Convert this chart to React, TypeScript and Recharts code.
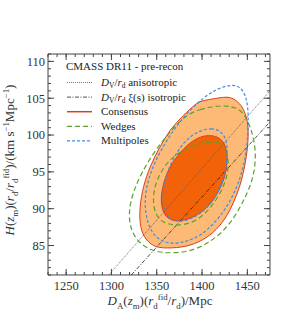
import React from 'react';
import { ComposedChart, Scatter, XAxis, YAxis } from 'recharts';

// ---- data (D_A in Mpc, H in km/s/Mpc) ----
const consensusOuterDA = [1397.6, 1416.0, 1427.1, 1434.5, 1443.7, 1449.2, 1451.0, 1451.0, 1449.2, 1445.5, 1441.8, 1434.5, 1427.1, 1416.0, 1401.3, 1382.8, 1360.7, 1346.0, 1334.9, 1331.2, 1331.2, 1334.9, 1342.3, 1353.3, 1364.4, 1379.1, 1393.9];
const consensusOuterH = [104.6, 105.0, 105.2, 105.0, 104.1, 102.5, 101.1, 99.3, 97.1, 94.8, 93.0, 90.7, 88.9, 87.1, 85.7, 84.8, 84.6, 84.8, 86.2, 88.0, 90.3, 93.0, 95.7, 98.4, 100.7, 102.7, 104.3];

const consensusInnerDA = [1406.8, 1417.9, 1425.2, 1428.2, 1427.1, 1422.7, 1415.3, 1405.0, 1392.1, 1377.3, 1364.4, 1357.0, 1354.4, 1355.9, 1360.7, 1369.9, 1382.8, 1395.7];
const consensusInnerH = [100.0, 99.8, 98.9, 97.3, 95.2, 93.4, 91.6, 90.0, 88.9, 88.3, 88.4, 89.4, 91.0, 92.7, 94.8, 96.8, 98.6, 99.7];

const wedgesOuterDA = [1382.8, 1397.6, 1412.3, 1427.1, 1438.1, 1445.5, 1451.0, 1454.7, 1457.3, 1459.2, 1458.4, 1455.5, 1449.9, 1442.6, 1433.3, 1422.3, 1408.6, 1393.9, 1375.5, 1357.0, 1342.3, 1330.5, 1323.1, 1319.4, 1320.1, 1324.9, 1333.0, 1344.1, 1357.0, 1369.9];
const wedgesOuterH = [102.7, 103.5, 103.9, 104.0, 103.7, 103.0, 101.8, 100.5, 99.3, 97.5, 95.7, 93.9, 92.1, 90.3, 88.4, 86.8, 85.5, 84.5, 84.0, 84.0, 84.4, 85.4, 86.7, 88.4, 90.5, 92.5, 94.8, 97.1, 99.3, 101.2];

const wedgesInnerDA = [1388.4, 1404.9, 1417.9, 1425.2, 1428.9, 1428.9, 1425.2, 1417.9, 1408.6, 1397.6, 1384.7, 1369.9, 1357.0, 1348.9, 1346.0, 1346.7, 1351.5, 1360.7, 1373.6];
const wedgesInnerH = [98.5, 99.1, 99.1, 98.4, 97.1, 95.2, 93.4, 91.6, 90.0, 88.7, 87.9, 87.7, 88.1, 89.1, 90.7, 92.5, 94.3, 96.2, 97.6];

const multipolesOuterDA = [1434.5, 1443.7, 1449.2, 1451.0, 1451.0, 1449.9, 1447.4, 1442.6, 1435.6, 1426.3, 1414.2, 1399.4, 1382.8, 1366.2, 1353.3, 1344.1, 1338.6, 1336.7, 1338.6, 1344.1, 1352.6, 1363.7, 1375.5, 1388.4, 1402.0, 1417.9];
const multipolesOuterH = [106.9, 106.4, 105.0, 103.2, 101.1, 98.9, 96.6, 94.3, 92.1, 90.0, 88.1, 86.4, 85.5, 85.2, 85.7, 86.8, 88.7, 90.7, 93.0, 95.2, 97.5, 99.8, 101.8, 103.6, 105.1, 106.4];

const multipolesInnerDA = [1395.7, 1410.5, 1421.5, 1427.1, 1428.2, 1426.3, 1421.5, 1414.2, 1403.1, 1390.2, 1377.3, 1366.2, 1358.9, 1356.3, 1357.8, 1363.7, 1373.6, 1384.7];
const multipolesInnerH = [100.5, 101.0, 100.5, 99.3, 97.5, 95.2, 93.2, 91.4, 89.8, 88.7, 88.2, 88.4, 89.3, 91.2, 93.4, 95.7, 98.0, 99.6];

const anisoDA = [1297, 1475];
const anisoH = [81, 106.0];
const isoDA = [1322, 1475];
const isoH = [81, 101.8];

const xTicks = [1250, 1300, 1350, 1400, 1450];
const yTicks = [85, 90, 95, 100, 105, 110];
const xMinorTicks = [1230, 1240, 1250, 1260, 1270, 1280, 1290, 1300, 1310, 1320, 1330, 1340, 1350, 1360, 1370, 1380, 1390, 1400, 1410, 1420, 1430, 1440, 1450, 1460, 1470];
const yMinorTicks = [81, 82, 83, 84, 85, 86, 87, 88, 89, 90, 91, 92, 93, 94, 95, 96, 97, 98, 99, 100, 101, 102, 103, 104, 105, 106, 107, 108, 109, 110, 111];

const legendTitle = 'CMASS DR11 - pre-recon';
const legendLabels = ['anisotropic', 'ξ(s) isotropic', 'Consensus', 'Wedges', 'Multipoles'];

// ---- styles ----
const C_LIGHT = '#fdba76';
const C_DARK = '#f26208';
const C_EDGE = '#dc3d1c';
const C_GREEN = '#5ca22a';
const C_BLUE = '#3a8de8';
const AXIS = '#444';
const FONT = '"Liberation Serif", serif';
const THIN = 0.01;

const zip = (xs: number[], ys: number[]) => xs.map((x, i) => ({ x, y: ys[i] }));

const NoShape = () => <g />;

type Seg = { t: string; i?: boolean; sub?: boolean; sup?: boolean };

const Rich = ({ segs, size }: { segs: Seg[]; size: number }) => {
  let cur = 0;
  const out: React.ReactNode[] = [];
  segs.forEach((s, k) => {
    const target = s.sub ? size * 0.3 : s.sup ? -size * 0.36 : 0;
    const dy = target - cur;
    cur = target;
    out.push(
      <tspan key={k} dy={dy} fontStyle={s.i ? 'italic' : 'normal'} fontSize={s.sub || s.sup ? size * 0.68 : size}>
        {s.t}
      </tspan>
    );
  });
  return <>{out}</>;
};

const xTitle: Seg[] = [
  { t: 'D', i: true }, { t: 'A', sub: true }, { t: '(' }, { t: 'z', i: true }, { t: 'm', sub: true }, { t: ')(' },
  { t: 'r', i: true }, { t: 'd', sub: true }, { t: 'fid', sup: true }, { t: '/' }, { t: 'r', i: true }, { t: 'd', sub: true }, { t: ')/Mpc' },
];
const yTitle: Seg[] = [
  { t: 'H', i: true }, { t: '(' }, { t: 'z', i: true }, { t: 'm', sub: true }, { t: ')(' },
  { t: 'r', i: true }, { t: 'd', sub: true }, { t: '/' }, { t: 'r', i: true }, { t: 'd', sub: true }, { t: 'fid', sup: true },
  { t: ')/(km s' }, { t: '−1', sup: true }, { t: 'Mpc' }, { t: '−1', sup: true }, { t: ')' },
];

const legendStyles = [
  { stroke: '#555', dash: '1 1', w: 0.8 },
  { stroke: '#222', dash: '4 1.5 1 1.5', w: 0.8 },
  { stroke: C_EDGE, dash: undefined, w: 1.5 },
  { stroke: C_GREEN, dash: '5 3', w: 1.3 },
  { stroke: C_BLUE, dash: '3 2', w: 1.3 },
];

export default function App() {
  const tickStyle = { fontFamily: FONT, fontSize: 12.5, fill: '#333' };
  const blank = () => '';
  const contour = (xs: number[], ys: number[], line: any) => (
    <Scatter xAxisId="b" yAxisId="l" data={zip(xs, ys)} shape={NoShape} isAnimationActive={false}
      line={line} lineJointType="basisClosed" />
  );
  return (
    <div style={{ position: 'absolute', left: 0, top: 0, width: 299, height: 324, background: '#fff' }}>
      <ComposedChart width={299} height={324} margin={{ top: 54, right: 29, bottom: 49, left: 48 }}>
        <XAxis xAxisId="b" type="number" dataKey="x" domain={[1230, 1475]} allowDataOverflow ticks={xTicks} interval={0}
          height={THIN} tickSize={-6} tickMargin={12} stroke={AXIS} tick={tickStyle} />
        <XAxis xAxisId="bm" type="number" dataKey="x" domain={[1230, 1475]} allowDataOverflow ticks={xMinorTicks} interval={0}
          height={THIN} tickSize={-3} axisLine={false} stroke={AXIS} tickFormatter={blank} />
        <XAxis xAxisId="t" orientation="top" type="number" dataKey="x" domain={[1230, 1475]} allowDataOverflow ticks={xTicks} interval={0}
          height={THIN} tickSize={-6} stroke={AXIS} tickFormatter={blank} />
        <XAxis xAxisId="tm" orientation="top" type="number" dataKey="x" domain={[1230, 1475]} allowDataOverflow ticks={xMinorTicks} interval={0}
          height={THIN} tickSize={-3} axisLine={false} stroke={AXIS} tickFormatter={blank} />
        <YAxis yAxisId="l" type="number" dataKey="y" domain={[81, 111]} allowDataOverflow ticks={yTicks} interval={0}
          width={THIN} tickSize={-6} tickMargin={9} stroke={AXIS} tick={tickStyle} />
        <YAxis yAxisId="lm" type="number" dataKey="y" domain={[81, 111]} allowDataOverflow ticks={yMinorTicks} interval={0}
          width={THIN} tickSize={-3} axisLine={false} stroke={AXIS} tickFormatter={blank} />
        <YAxis yAxisId="r" orientation="right" type="number" dataKey="y" domain={[81, 111]} allowDataOverflow ticks={yTicks} interval={0}
          width={THIN} tickSize={-6} stroke={AXIS} tickFormatter={blank} />
        <YAxis yAxisId="rm" orientation="right" type="number" dataKey="y" domain={[81, 111]} allowDataOverflow ticks={yMinorTicks} interval={0}
          width={THIN} tickSize={-3} axisLine={false} stroke={AXIS} tickFormatter={blank} />

        {contour(consensusOuterDA, consensusOuterH, { fill: C_LIGHT, stroke: C_EDGE, strokeWidth: 1 })}
        {contour(consensusInnerDA, consensusInnerH, { fill: C_DARK, stroke: C_EDGE, strokeWidth: 1 })}
        <Scatter xAxisId="b" yAxisId="l" data={zip(anisoDA, anisoH)} shape={NoShape} isAnimationActive={false}
          line={{ fill: 'none', stroke: '#555', strokeWidth: 0.8, strokeDasharray: '1 1' }} />
        <Scatter xAxisId="b" yAxisId="l" data={zip(isoDA, isoH)} shape={NoShape} isAnimationActive={false}
          line={{ fill: 'none', stroke: '#222', strokeWidth: 0.8, strokeDasharray: '4 1.5 1 1.5' }} />
        {contour(wedgesOuterDA, wedgesOuterH, { fill: 'none', stroke: C_GREEN, strokeWidth: 1.2, strokeDasharray: '5 3' })}
        {contour(wedgesInnerDA, wedgesInnerH, { fill: 'none', stroke: C_GREEN, strokeWidth: 1.2, strokeDasharray: '5 3' })}
        {contour(multipolesOuterDA, multipolesOuterH, { fill: 'none', stroke: C_BLUE, strokeWidth: 1.2, strokeDasharray: '3 2' })}
        {contour(multipolesInnerDA, multipolesInnerH, { fill: 'none', stroke: C_BLUE, strokeWidth: 1.2, strokeDasharray: '3 2' })}
      </ComposedChart>

      <svg width={299} height={324} style={{ position: 'absolute', left: 0, top: 0, pointerEvents: 'none' }}>
        <text x={66} y={70} fontFamily={FONT} fontSize={11} fill="#222">{legendTitle}</text>
        {legendLabels.map((lab, i) => {
          const y = 82.5 + i * 14.6;
          const st = legendStyles[i];
          return (
            <g key={lab}>
              <line x1={67} x2={92} y1={y} y2={y} stroke={st.stroke} strokeWidth={st.w} strokeDasharray={st.dash} />
              <text x={101} y={y + 3.5} fontFamily={FONT} fontSize={11} fill="#222">
                {i < 2 ? (
                  <>
                    <tspan fontStyle="italic">D</tspan>
                    <tspan fontSize={7.5} dy={2}>V</tspan>
                    <tspan dy={-2}>/</tspan>
                    <tspan fontStyle="italic">r</tspan>
                    <tspan fontSize={7.5} dy={2}>d</tspan>
                    <tspan dy={-2}>{' ' + lab}</tspan>
                  </>
                ) : lab}
              </text>
            </g>
          );
        })}
        <text x={160} y={305} textAnchor="middle" fontFamily={FONT} fontSize={13} fill="#333">
          <Rich segs={xTitle} size={13} />
        </text>
        <text x={14} y={160} textAnchor="middle" transform="rotate(-90 14 160)" fontFamily={FONT} fontSize={13} fill="#333">
          <Rich segs={yTitle} size={13} />
        </text>
      </svg>
    </div>
  );
}
